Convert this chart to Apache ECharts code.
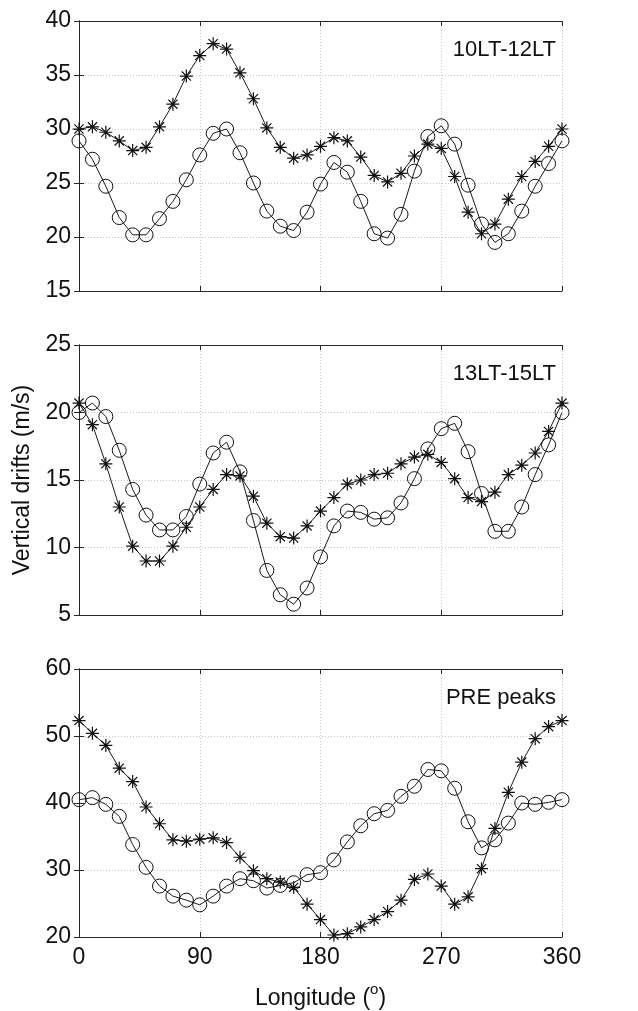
<!DOCTYPE html>
<html>
<head>
<meta charset="utf-8">
<script src="https://cdn.jsdelivr.net/npm/echarts@6/dist/echarts.min.js"></script>
<style>
html,body{margin:0;padding:0;background:#fff;}
#chart{width:638px;height:1011px;}
</style>
</head>
<body>
<div id="chart"></div>
<script>
// Longitudes (degrees)
const longitudes = [0,10,20,30,40,50,60,70,80,90,100,110,120,130,140,150,160,170,180,190,200,210,220,230,240,250,260,270,280,290,300,310,320,330,340,350,360];
const xTicks = [0, 90, 180, 270, 360];

// Panel 1: 10LT-12LT
const p1Star = [30.0,30.2,29.7,28.9,28.0,28.3,30.2,32.3,34.9,36.8,37.9,37.4,35.2,32.8,30.1,28.3,27.3,27.6,28.4,29.2,28.9,27.4,25.7,25.1,25.9,27.5,28.6,28.2,25.6,22.3,20.3,21.2,23.5,25.6,27.0,28.4,30.0];
const p1Circle = [28.9,27.2,24.7,21.8,20.2,20.2,21.7,23.3,25.3,27.6,29.6,30.0,27.8,25.0,22.4,21.0,20.6,22.3,24.9,26.9,26.0,23.3,20.3,19.9,22.1,26.1,29.3,30.3,28.6,24.8,21.2,19.5,20.3,22.4,24.7,26.8,28.9];

// Panel 2: 13LT-15LT
const p2Star = [20.7,19.1,16.2,13.0,10.1,9.0,9.0,10.1,11.5,13.0,14.3,15.4,15.3,13.8,11.8,10.8,10.7,11.6,12.7,13.7,14.7,15.0,15.4,15.5,16.2,16.7,16.9,16.3,15.1,13.7,13.4,14.1,15.4,16.1,17.0,18.6,20.7];
const p2Circle = [20.0,20.7,19.7,17.2,14.3,12.4,11.3,11.3,12.3,14.7,17.0,17.8,15.6,12.0,8.3,6.5,5.8,7.0,9.3,11.6,12.7,12.6,12.1,12.2,13.3,15.1,17.3,18.8,19.2,17.1,14.0,11.2,11.2,13.0,15.4,17.6,20.0];

// Panel 3: PRE peaks
const p3Star = [52.3,50.4,48.6,45.2,43.2,39.4,36.9,34.5,34.3,34.6,34.8,34.1,31.9,29.9,28.7,28.2,27.4,24.9,22.6,20.3,20.5,21.5,22.6,23.8,25.5,28.6,29.4,27.6,24.9,26.0,30.2,36.2,41.6,46.1,49.6,51.4,52.3];
const p3Circle = [40.5,40.8,39.8,38.0,33.8,30.4,27.6,26.1,25.5,24.8,26.1,27.6,28.7,28.4,27.3,27.7,28.1,29.3,29.6,31.5,34.2,36.6,38.4,38.9,41.0,42.5,45.0,44.8,42.2,37.2,33.3,34.5,37.0,40.0,39.8,40.1,40.5];

const panelLabels = ['10LT-12LT', '13LT-15LT', 'PRE peaks'];
const yRanges = [[15, 40, 5], [5, 25, 5], [20, 60, 10]];

const FONT = "'Liberation Sans', Arial, sans-serif";
const FS = 23;
const FS_LABEL = 22;
const gridTops = [21, 345, 669];
const gridH = 270;
const gridLeft = 79, gridRight = 76;

const pair = arr => arr.map((v, i) => [longitudes[i], v]);
const starPath = 'path://M0,-10L0,10M-10,0L10,0M-7.07,-7.07L7.07,7.07M-7.07,7.07L7.07,-7.07';

const frameColor = '#262626';
const gridColor = '#c4c4c4';

const grids = [], xAxes = [], yAxes = [], series = [];
const panels = [[p1Star, p1Circle], [p2Star, p2Circle], [p3Star, p3Circle]];

panels.forEach((p, i) => {
  grids.push({left: gridLeft, right: gridRight, top: gridTops[i], height: gridH});
  const isLast = i === 2;
  xAxes.push({
    type: 'value', gridIndex: i, min: 0, max: 360, interval: 90, position: 'bottom',
    axisLine: {lineStyle: {color: frameColor, width: 1}},
    axisTick: {inside: true, length: 5, lineStyle: {color: frameColor}},
    axisLabel: {show: isLast, color: '#111', fontSize: FS, fontFamily: FONT, margin: 9},
    splitLine: {show: true, lineStyle: {color: gridColor, type: [1, 2], width: 1}},
    name: isLast ? '{a|Longitude (}{s|o}{a|)}' : '',
    nameLocation: 'middle', nameGap: 45,
    nameTextStyle: {
      rich: {
        a: {fontSize: FS, fontFamily: FONT, color: '#111', lineHeight: 28, verticalAlign: 'bottom'},
        s: {fontSize: 15, fontFamily: FONT, color: '#111', lineHeight: 28, verticalAlign: 'top'}
      }
    }
  });
  xAxes.push({
    type: 'value', gridIndex: i, min: 0, max: 360, interval: 90, position: 'top',
    axisLine: {lineStyle: {color: frameColor, width: 1}},
    axisTick: {inside: true, length: 5, lineStyle: {color: frameColor}},
    axisLabel: {show: false}, splitLine: {show: false}
  });
  const r = yRanges[i];
  yAxes.push({
    type: 'value', gridIndex: i, min: r[0], max: r[1], interval: r[2], position: 'left',
    axisLine: {show: true, lineStyle: {color: frameColor, width: 1}},
    axisTick: {show: true, inside: true, length: 5, lineStyle: {color: frameColor}},
    axisLabel: {color: '#111', fontSize: FS, fontFamily: FONT, margin: 8},
    splitLine: {show: true, lineStyle: {color: gridColor, type: [1, 2], width: 1}},
    name: i === 1 ? 'Vertical drifts (m/s)' : '',
    nameLocation: 'middle', nameGap: 44,
    nameTextStyle: {fontSize: FS, fontFamily: FONT, color: '#111'}
  });
  yAxes.push({
    type: 'value', gridIndex: i, min: r[0], max: r[1], interval: r[2], position: 'right',
    axisLine: {show: true, lineStyle: {color: frameColor, width: 1}},
    axisTick: {show: true, inside: true, length: 5, lineStyle: {color: frameColor}},
    axisLabel: {show: false}, splitLine: {show: false}
  });
  series.push({
    type: 'line', xAxisIndex: 2 * i, yAxisIndex: 2 * i, data: pair(p[0]),
    symbol: starPath, symbolSize: 13, showAllSymbol: true,
    lineStyle: {color: '#1a1a1a', width: 1},
    itemStyle: {color: 'rgba(0,0,0,0)', borderColor: '#111', borderWidth: 1.2},
    emphasis: {disabled: true}, animation: false, z: 3
  });
  series.push({
    type: 'line', xAxisIndex: 2 * i, yAxisIndex: 2 * i, data: pair(p[1]),
    symbol: 'circle', symbolSize: 14, showAllSymbol: true,
    lineStyle: {color: '#1a1a1a', width: 1},
    itemStyle: {color: 'rgba(0,0,0,0)', borderColor: '#111', borderWidth: 1},
    emphasis: {disabled: true}, animation: false, z: 3
  });
});

const graphics = panelLabels.map((t, i) => ({
  type: 'text', right: 82, top: gridTops[i] + 18,
  style: {text: t, fontSize: FS_LABEL, fontFamily: FONT, fill: '#111'}
}));

const chart = echarts.init(document.getElementById('chart'), null, {renderer: 'canvas'});
chart.setOption({
  animation: false,
  backgroundColor: '#fff',
  grid: grids, xAxis: xAxes, yAxis: yAxes, series: series,
  graphic: graphics
});
</script>
</body>
</html>
